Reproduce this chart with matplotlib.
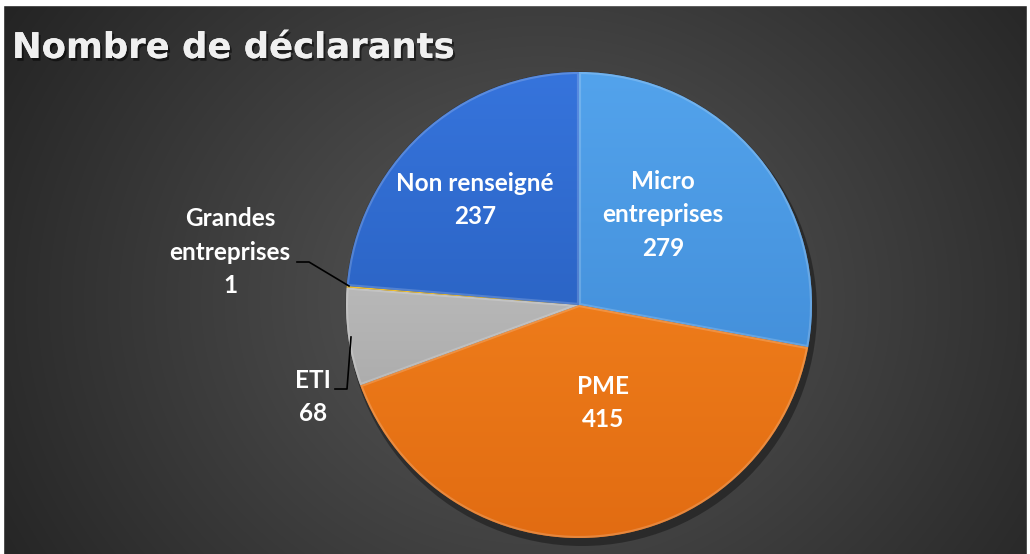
import numpy as np
import matplotlib
matplotlib.use("Agg")
import matplotlib.pyplot as plt
import matplotlib.patheffects as pe
from matplotlib.colors import to_rgb
from matplotlib.patches import Rectangle

# ---- data ----
categories = ["Micro\nentreprises", "PME", "ETI", "Grandes\nentreprises", "Non renseigné"]
values = [279, 415, 68, 1, 237]
top_colors = ["#53a3ec", "#f98b22", "#d0d0d0", "#ffc000", "#3674dc"]
bottom_colors = ["#3a84d0", "#e26c12", "#9c9c9c", "#e0a800", "#2256b0"]
title = "Nombre de déclarants"

W, H = 1030, 554
fig = plt.figure(figsize=(W / 100, H / 100), dpi=100)
fig.patch.set_facecolor("white")
ax = fig.add_axes([0, 0, 1, 1])

# background radial gradient
yy, xx = np.mgrid[0:H, 0:W]
d = np.sqrt((xx - 540) ** 2 + ((yy - 300) * 1.15) ** 2)
v = np.clip(0x5a / 255 - (d / 620) * (0x5a - 0x25) / 255, 0x22 / 255, 1)
bg = np.dstack([v, v, v])
ax.imshow(bg, extent=(0, W, 0, H), origin="upper", zorder=0, interpolation="bilinear")

cx, cy, R = 579, H - 305, 233

# shadow under pie
shadow = plt.Circle((cx + 3, cy - 6), R + 2, color="black", alpha=0.35, zorder=1, lw=0)
ax.add_patch(shadow)

wedges, _ = ax.pie(values, center=(cx, cy), radius=R, startangle=90, counterclock=False,
                   colors=top_colors, frame=True,
                   wedgeprops=dict(linewidth=0.8, edgecolor="#30303080"))

for w, c1, c2 in zip(wedges, top_colors, bottom_colors):
    w.set_zorder(2)
    c1 = np.array(to_rgb(c1)); c2 = np.array(to_rgb(c2))
    t = np.linspace(0, 1, 256)[:, None, None]
    grad = c1[None, None, :] * (1 - t) + c2[None, None, :] * t
    grad = np.repeat(grad, 2, axis=1)
    im = ax.imshow(grad, extent=(cx - R, cx + R, cy - R, cy + R), origin="upper",
                   zorder=2.5, interpolation="bilinear", aspect="auto")
    im.set_clip_path(w)
    # bevel rim
    rim = matplotlib.patches.Wedge((w.center), w.r, w.theta1, w.theta2, width=None,
                                   fill=False, edgecolor=(1, 1, 1, 0.18), lw=3, zorder=3)
    ax.add_patch(rim)
    rim.set_clip_path(w)

ax.set_xlim(0, W)
ax.set_ylim(0, H)
ax.set_aspect("auto")
ax.axis("off")

font = "Lato"
lab_kw = dict(color="white", fontsize=17.5, fontweight="bold", family=font,
              ha="center", va="center", linespacing=1.55, zorder=5)

# inside labels
ax.text(663, H - 215, f"{categories[0]}\n{values[0]}", **lab_kw)
ax.text(603, H - 403, f"{categories[1]}\n{values[1]}", **lab_kw)
ax.text(475, H - 200, f"{categories[4]}\n{values[4]}", **lab_kw)
# outside labels
ax.text(313, H - 397, f"{categories[2]}\n{values[2]}", **lab_kw)
ax.text(230, H - 252, f"{categories[3]}\n{values[3]}", **lab_kw)

# leader lines
ax.plot([297, 309, 349], [H - 262, H - 262, H - 286], color="black", lw=1.2, zorder=4)
ax.plot([335, 347, 351], [H - 389, H - 389, H - 337], color="black", lw=1.2, zorder=4)

# title
ax.text(12, H - 48, title, color="#f0f0f0", fontsize=25.5, fontweight="bold", family="DejaVu Sans",
        ha="left", va="center", zorder=6,
        path_effects=[pe.withSimplePatchShadow(offset=(1.5, -2), shadow_rgbFace="black", alpha=0.5),
                      pe.Normal()])

# white frame edges
fig.patches.append(Rectangle((0, 1 - 5 / H), 1, 5 / H, transform=fig.transFigure,
                             color="white", zorder=10))
fig.patches.append(Rectangle((0, 0), 3 / W, 1, transform=fig.transFigure, color="white", zorder=10))
fig.patches.append(Rectangle((1 - 3 / W, 0), 3 / W, 1, transform=fig.transFigure, color="white", zorder=10))

fig.savefig("out.png", dpi=100, facecolor=fig.get_facecolor())
